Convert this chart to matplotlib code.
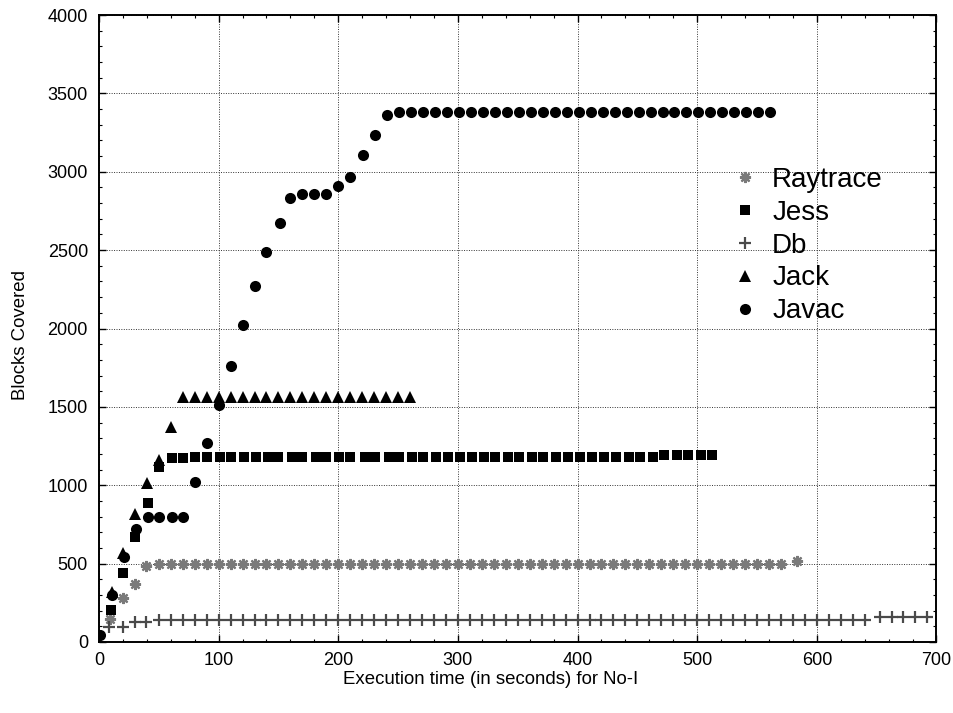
import numpy as np
import matplotlib
matplotlib.use("Agg")
import matplotlib.pyplot as plt
from matplotlib.ticker import MultipleLocator

plt.rcParams['font.family'] = ['Liberation Sans', 'DejaVu Sans']
NARROW = ['Liberation Sans Narrow', 'Liberation Sans', 'DejaVu Sans']

# --- data ---
raytrace_x = [9, 20, 30, 39] + list(range(50, 580, 10)) + [583]
raytrace_y = [147, 283, 368, 488] + [497] * len(range(50, 580, 10)) + [518]

jess_x = [10, 20, 30, 41, 50, 61, 70, 80, 90, 101, 110, 121, 131, 141, 150, 161, 170, 181, 190,
          201, 210, 222, 231, 242, 251, 262, 271, 282, 292, 302, 312, 322, 331, 342, 351, 362,
          371, 382, 392, 402, 412, 422, 432, 443, 452, 463, 472, 483, 492, 503, 512]
jess_y = [204, 438, 668, 885, 1114, 1172, 1172, 1178] + [1182] * 38 + [1195] * 5

db_x = [8, 20, 30, 39] + list(range(50, 650, 10)) + [653, 663, 672, 682, 692]
db_y = [98, 98, 125, 125] + [138] * len(range(50, 650, 10)) + [160] * 5

jack_x = [11, 20, 30, 40, 50, 60] + list(range(70, 270, 10))
jack_y = [321, 566, 814, 1012, 1161, 1369] + [1564] * len(range(70, 270, 10))

javac_x = [1, 11, 21, 31, 41, 50, 61, 70, 80, 90, 100, 110, 120, 130, 140, 151, 160, 170, 180,
           190, 200, 210, 221, 231, 241] + list(range(251, 571, 10))
javac_y = [45, 298, 540, 720, 795, 795, 795, 795, 1018, 1267, 1515, 1762, 2022, 2270, 2489, 2670,
           2830, 2855, 2855, 2855, 2910, 2968, 3110, 3233, 3359] + [3382] * len(range(251, 571, 10))

x_ticks = [0, 100, 200, 300, 400, 500, 600, 700]
y_ticks = [0, 500, 1000, 1500, 2000, 2500, 3000, 3500, 4000]

fig = plt.figure(figsize=(9.54, 7.13), dpi=100)
ax = fig.add_axes([99 / 954, 1 - 642 / 713, 837.5 / 954, 627 / 713])

ax.plot(raytrace_x, raytrace_y, linestyle='none', marker=(8, 2, 0), ms=8, mew=1.6,
        color='#7a7a7a', label='Raytrace', zorder=3)
ax.plot(jess_x, jess_y, linestyle='none', marker='s', ms=7.3, color='black', mew=0,
        label='Jess', zorder=3)
ax.plot(db_x, db_y, linestyle='none', marker='+', ms=8.5, mew=1.6, color='#4a4a4a',
        label='Db', zorder=3)
ax.plot(jack_x, jack_y, linestyle='none', marker='^', ms=8, color='black', mew=0,
        label='Jack', zorder=3)
ax.plot(javac_x, javac_y, linestyle='none', marker='o', ms=8, color='black', mew=0,
        label='Javac', zorder=3)

ax.set_xlim(0, 700)
ax.set_ylim(0, 4000)
ax.set_xticks(x_ticks)
ax.set_yticks(y_ticks)
ax.xaxis.set_minor_locator(MultipleLocator(20))
ax.yaxis.set_minor_locator(MultipleLocator(100))
ax.tick_params(which='both', direction='in', top=True, right=True)
ax.tick_params(which='major', length=5, width=1)
ax.tick_params(which='minor', length=2.5, width=0.8)
ax.tick_params(axis='x', pad=7)
ax.tick_params(axis='y', pad=8)
for lab in ax.get_xticklabels() + ax.get_yticklabels():
    lab.set_family(NARROW)
    lab.set_fontsize(13)
for s in ax.spines.values():
    s.set_linewidth(1.4)

ax.grid(True, which='major', linestyle=(0, (1, 1.5)), linewidth=0.7, color='#333333', zorder=0)
ax.set_axisbelow(True)

ax.set_xlabel('Execution time (in seconds) for No-I', fontsize=13.4, family=NARROW)
ax.set_ylabel('Blocks Covered', fontsize=13.4)
ax.xaxis.set_label_coords(0.468, -0.046)
ax.yaxis.set_label_coords(-0.083, 0.4896)

ax.legend(loc='upper left', bbox_to_anchor=(731 / 954, 1 - 167 / 713),
          bbox_transform=fig.transFigure, frameon=False, fontsize=20, numpoints=1,
          handlelength=0.98, handletextpad=0.5, labelspacing=0.245, borderpad=0,
          borderaxespad=0)

fig.savefig('out.png', dpi=100)
